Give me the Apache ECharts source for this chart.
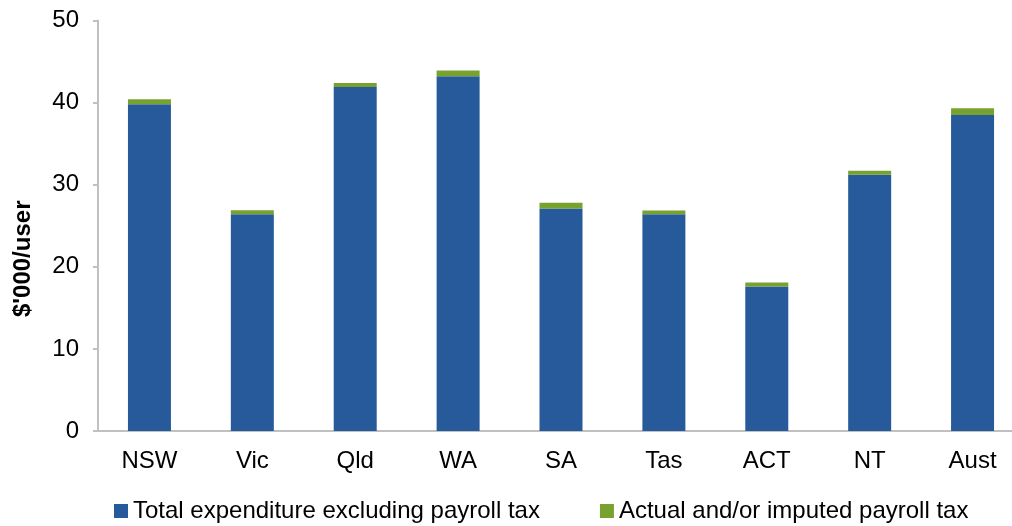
<!DOCTYPE html>
<html>
<head>
<meta charset="utf-8">
<script src="https://cdn.jsdelivr.net/npm/echarts@6/dist/echarts.min.js"></script>
<style>
html,body{margin:0;padding:0;background:#fff;overflow:hidden;}
#chart{width:1024px;height:526px;}
</style>
</head>
<body>
<div id="chart"></div>
<script>
const categories = ['NSW','Vic','Qld','WA','SA','Tas','ACT','NT','Aust'];
const totalExclPayroll = [39.8, 26.4, 41.9, 43.2, 27.1, 26.4, 17.6, 31.2, 38.5];
const payrollTax = [0.6, 0.5, 0.5, 0.7, 0.7, 0.45, 0.5, 0.5, 0.8];
const seriesNames = ['Total expenditure excluding payroll tax', 'Actual and/or imputed payroll tax'];
const yAxisName = "$'000/user";

const font = 'Liberation Sans, Arial, sans-serif';
const chart = echarts.init(document.getElementById('chart'), null, {renderer: 'canvas'});
chart.setOption({
  animation: false,
  textStyle: {fontFamily: font},
  grid: {left: 98, right: 0, top: 20.5, bottom: 95, containLabel: false},
  legend: {
    top: 494,
    left: 109,
    itemWidth: 14,
    itemHeight: 14,
    itemGap: 60,
    icon: 'rect',
    textStyle: {fontSize: 24, color: '#000', fontFamily: font},
    data: seriesNames
  },
  xAxis: {
    type: 'category',
    data: categories,
    axisLine: {lineStyle: {color: '#c0c0c0', width: 2}},
    axisTick: {show: false},
    axisLabel: {fontSize: 24, color: '#000', margin: 18, fontFamily: font}
  },
  yAxis: {
    type: 'value',
    min: 0, max: 50, interval: 10,
    name: yAxisName,
    nameLocation: 'middle',
    nameGap: 63,
    nameTextStyle: {fontSize: 24, fontWeight: 'bold', color: '#000', fontFamily: font, padding: [0, 66, 0, 0]},
    axisLine: {show: true, lineStyle: {color: '#c0c0c0', width: 2}},
    axisTick: {show: true, length: 5, lineStyle: {color: '#c0c0c0', width: 2}},
    splitLine: {show: false},
    axisLabel: {fontSize: 24, color: '#000', margin: 19, fontFamily: font}
  },
  series: [
    {name: seriesNames[0], type: 'bar', stack: 'a', data: totalExclPayroll, barWidth: 43,
     itemStyle: {color: '#275A9B'}},
    {name: seriesNames[1], type: 'bar', stack: 'a', data: payrollTax, barWidth: 43,
     itemStyle: {color: '#77A22F'}}
  ]
});
</script>
</body>
</html>
